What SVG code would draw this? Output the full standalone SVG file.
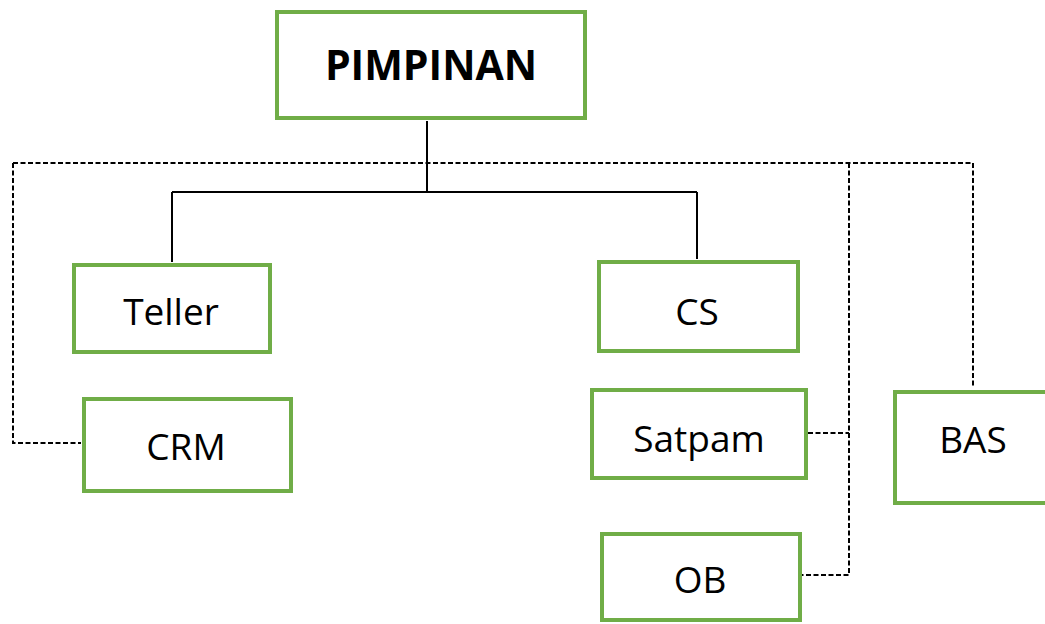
<svg xmlns="http://www.w3.org/2000/svg" width="1045" height="624" viewBox="0 0 1045 624">
<style>
.box{fill:#fff;stroke:#70AD47;stroke-width:4}
.lbl{font-family:"Open Sans","Liberation Sans",sans-serif;font-size:37px;fill:#000;text-anchor:middle}
.title{font-family:"Open Sans","Liberation Sans",sans-serif;font-size:41px;font-weight:bold;fill:#000;text-anchor:middle}
.solid{fill:none;stroke:#000;stroke-width:2}
.dash{fill:none;stroke:#000;stroke-width:2;stroke-dasharray:5 2.5}
</style>
<rect width="1045" height="624" fill="#fff"/>
<g id="connectors">
<path class="solid" d="M427,121 V192 M172,192 H697 M172,192 V262 M697,192 V259"/>
<path class="dash" d="M13,163 H973 V388"/>
<path class="dash" d="M13,163 V443 H81"/>
<path class="dash" d="M849,163 V575 H802"/>
<path class="dash" d="M808,433 H849"/>
</g>
<g id="pimpinan"><rect class="box" x="277" y="12" width="308" height="106"/><text class="title" x="431" y="80">PIMPINAN</text></g>
<g id="teller"><rect class="box" x="74" y="265" width="196" height="87"/><text class="lbl" x="171" y="325">Teller</text></g>
<g id="crm"><rect class="box" x="84" y="399" width="207" height="92"/><text class="lbl" x="186" y="460">CRM</text></g>
<g id="cs"><rect class="box" x="599" y="262" width="199" height="89"/><text class="lbl" x="697" y="325">CS</text></g>
<g id="satpam"><rect class="box" x="592" y="390" width="214" height="88"/><text class="lbl" x="699" y="452">Satpam</text></g>
<g id="bas"><rect class="box" x="895" y="392" width="160" height="111"/><text class="lbl" x="973" y="453">BAS</text></g>
<g id="ob"><rect class="box" x="602" y="534" width="198" height="86"/><text class="lbl" x="700" y="593">OB</text></g>
</svg>
